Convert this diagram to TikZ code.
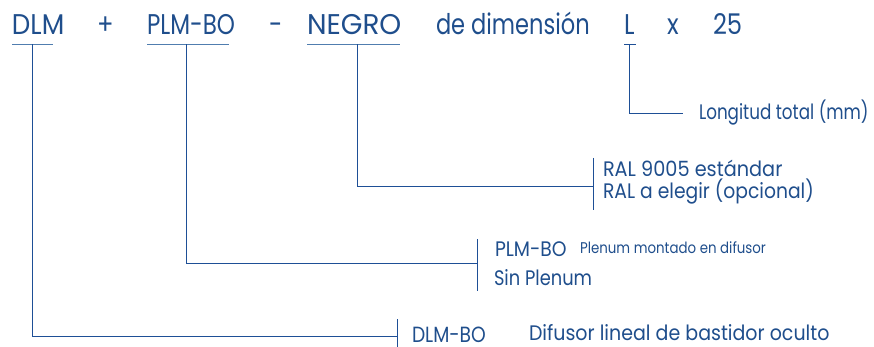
\documentclass[tikz,border=0pt]{standalone}
\usepackage{fontspec}
\usepackage{graphicx}
\setmainfont{Poppins}[FakeStretch=0.85]
\newcommand{\hsq}[2]{\scalebox{#1}[1]{#2}}
\definecolor{txt}{RGB}{31,78,140}
\definecolor{lnc}{RGB}{30,79,150}
\definecolor{ulc}{RGB}{80,125,175}
\begin{document}
\begin{tikzpicture}[x=1pt,y=-1pt,
  lbl/.style={anchor=base west, inner sep=0pt, outer sep=0pt, text=txt, font=\fontsize{21}{21}\selectfont},
  toplbl/.style={lbl, font=\fontsize{28.5}{28.5}\selectfont},
  smalllbl/.style={lbl, font=\fontsize{15.5}{15.5}\selectfont},
  ln/.style={draw=lnc, line width=0.9pt},
  ul/.style={draw=ulc, line width=1.6pt}]
\useasboundingbox (0,0) rectangle (874,347);
% top row
\node[toplbl] (dlm) at (12,35) {\hsq{1.08}{DLM}};
\node[toplbl] (plus) at (97,35) {+};
\node[toplbl] (plm) at (147,35) {\hsq{0.95}{PLM-BO}};
\node[toplbl] (dash) at (269,35) {-};
\node[toplbl] (negro) at (307,35) {\hsq{1.15}{NEGRO}};
\node[toplbl] (dim) at (436,35) {\hsq{0.93}{de dimensión}};
\node[toplbl] (L) at (624,35) {L};
\node[toplbl] (xx) at (667,35) {x};
\node[toplbl] (n25) at (713,35) {25};
% underlines
\draw[ul] (12,44.5) -- (53,44.5);
\draw[ul] (147,44.5) -- (229,44.5);
\draw[ul] (307,44.5) -- (400,44.5);
\draw[ln] (624,44.5) -- (636,44.5);
% labels
\node[lbl] (long) at (699,120) {\hsq{0.94}{Longitud total (mm)}};
\node[lbl] (ral1) at (603,177) {\hsq{1.08}{RAL 9005 estándar}};
\node[lbl] (ral2) at (603,199) {\hsq{1.05}{RAL a elegir (opcional)}};
\node[lbl] (plmbo) at (495,256) {\hsq{1.05}{PLM-BO}};
\node[smalllbl] (plen) at (580,253) {\hsq{1.015}{Plenum montado en difusor}};
\node[lbl] (sinp) at (494,285) {Sin Plenum};
\node[lbl, font=\fontsize{22}{22}\selectfont] (dlmbo) at (412,342) {DLM-BO};
\node[lbl] (difu) at (529,340) {\hsq{1.065}{Difusor lineal de bastidor oculto}};
% connector points
\coordinate (dlmU) at (32.5,44.5);
\coordinate (plmU) at (186,44.5);
\coordinate (negU) at (357.5,44.5);
\coordinate (LU) at (629.5,44.5);
\coordinate (b1) at (397,336);
\coordinate (b1t) at (397,319);
\coordinate (b1b) at (397,347);
\coordinate (b2) at (477,263);
\coordinate (b2t) at (477,239);
\coordinate (b2b) at (477,291);
\coordinate (b3) at (593,186);
\coordinate (b3t) at (593,158);
\coordinate (b3b) at (593,210);
\coordinate (b4) at (683,113);
% connectors
\draw[ln] (dlmU) |- (b1);
\draw[ln] (b1t) -- (b1b);
\draw[ln] (plmU) |- (b2);
\draw[ln] (b2t) -- (b2b);
\draw[ln] (negU) |- (b3);
\draw[ln] (b3t) -- (b3b);
\draw[ln] (LU) |- (b4);
\end{tikzpicture}
\end{document}
